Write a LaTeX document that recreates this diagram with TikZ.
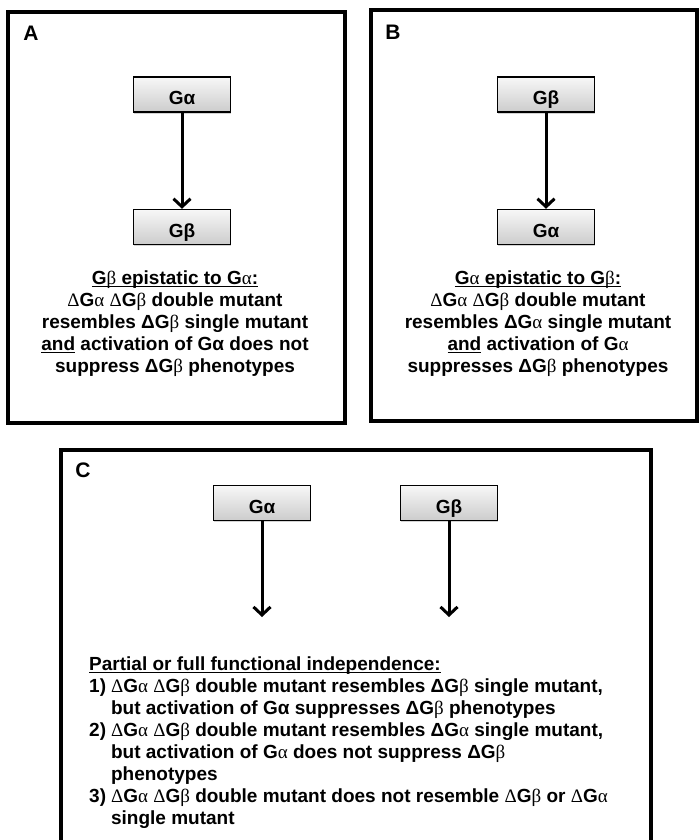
\documentclass[tikz,border=0pt]{standalone}
\usepackage{fontspec}
\setmainfont{Liberation Sans}
\newfontfamily\symf{Liberation Serif}
\usepackage{tikz}
\usetikzlibrary{arrows.meta,shadows,calc,positioning}
\newcommand\symA{{\symf\mdseries α}}
\newcommand\symB{{\symf\mdseries β}}
\newcommand\symD{{\symf\mdseries Δ}}
\newcommand\uln[1]{\underline{\smash{#1}}}
\tikzstyle{frame} =[line width=3.4pt]
\tikzstyle{gene}  =[draw, line width=1.4pt, minimum width=97pt,
                    minimum height=35pt, top color=gray!6,
                    bottom color=gray!40, inner sep=0pt,
                    text height=21pt, text depth=0pt,
                    drop shadow={shadow xshift=0.8pt, shadow yshift=-1.8pt,
                    opacity=0.35}, font=\fontsize{19}{22}\selectfont\bfseries]
\tikzstyle{edge}  =[line width=3pt,
                    -{Straight Barb[length=8pt, width=17pt, line width=3pt]}]
\tikzstyle{panel} =[inner sep=0pt, font=\fontsize{21}{24}\selectfont\bfseries]
\tikzstyle{descr} =[inner sep=0pt, align=center,
                    font=\fontsize{19}{22}\selectfont\bfseries]

\begin{document}
\begin{tikzpicture}[x=1pt, y=-1pt, node distance=132.5pt, on grid]
    \useasboundingbox (0,0) rectangle (699,840);
    % panel A
    \begin{scope}
        \draw[frame] (8,12) rectangle (345,423);
        \node (labA) [panel] at (31,33) {A};
        \node (aga) [gene] at (182,94.5) {Gα};
        \node (agb) [gene, below= of aga] {Gβ};
        \node (atxt) [descr] at (175,331) {\uln{G\symB{} epistatic to G\symA:}\\
            \symD G\symA{} \symD G\symB{} double mutant\\
            resembles ΔG\symB{} single mutant\\
            \uln{and} activation of Gα does not\\
            suppress ΔG\symB{} phenotypes};
        \draw[edge] (aga) to (agb);
    \end{scope}
    % panel B
    \begin{scope}
        \draw[frame] (371,10) rectangle (697,421);
        \node (labB) [panel] at (393,32) {B};
        \node (bgb) [gene] at (546,94.5) {Gβ};
        \node (bga) [gene, below= of bgb] {Gα};
        \node (btxt) [descr] at (538,331) {\uln{G\symA{} epistatic to G\symB:}\\
            \symD G\symA{} \symD G\symB{} double mutant\\
            resembles ΔG\symA{} single mutant\\
            \uln{and} activation of G\symA\\
            suppresses ΔG\symB{} phenotypes};
        \draw[edge] (bgb) to (bga);
    \end{scope}
    % panel C
    \begin{scope}
        \draw[frame] (61,450) rectangle (651,870);
        \node (labC) [panel] at (83,470) {C};
        \node (cga) [gene] at (262,503) {Gα};
        \node (cgb) [gene] at (449,503) {Gβ};
        \coordinate (cea) at (262,617);
        \coordinate (ceb) at (449,617);
        \draw[edge] (cga) to (cea);
        \draw[edge] (cgb) to (ceb);
        \node (ctxt) [descr, align=left, anchor=north west] at (89,655) {%
            \begin{tabular}{@{}l@{\hspace{5pt}}l@{}}
            \multicolumn{2}{@{}l@{}}{\uln{Partial or full functional independence:}}\\
            1) & \symD G\symA{} \symD G\symB{} double mutant resembles ΔG\symB{} single mutant,\\
               & but activation of Gα suppresses ΔG\symB{} phenotypes\\
            2) & \symD G\symA{} \symD G\symB{} double mutant resembles ΔG\symA{} single mutant,\\
               & but activation of G\symA{} does not suppress ΔG\symB\\
               & phenotypes\\
            3) & \symD G\symA{} \symD G\symB{} double mutant does not resemble \symD G\symB{} or \symD G\symA\\
               & single mutant
            \end{tabular}};
    \end{scope}
\end{tikzpicture}
\end{document}
